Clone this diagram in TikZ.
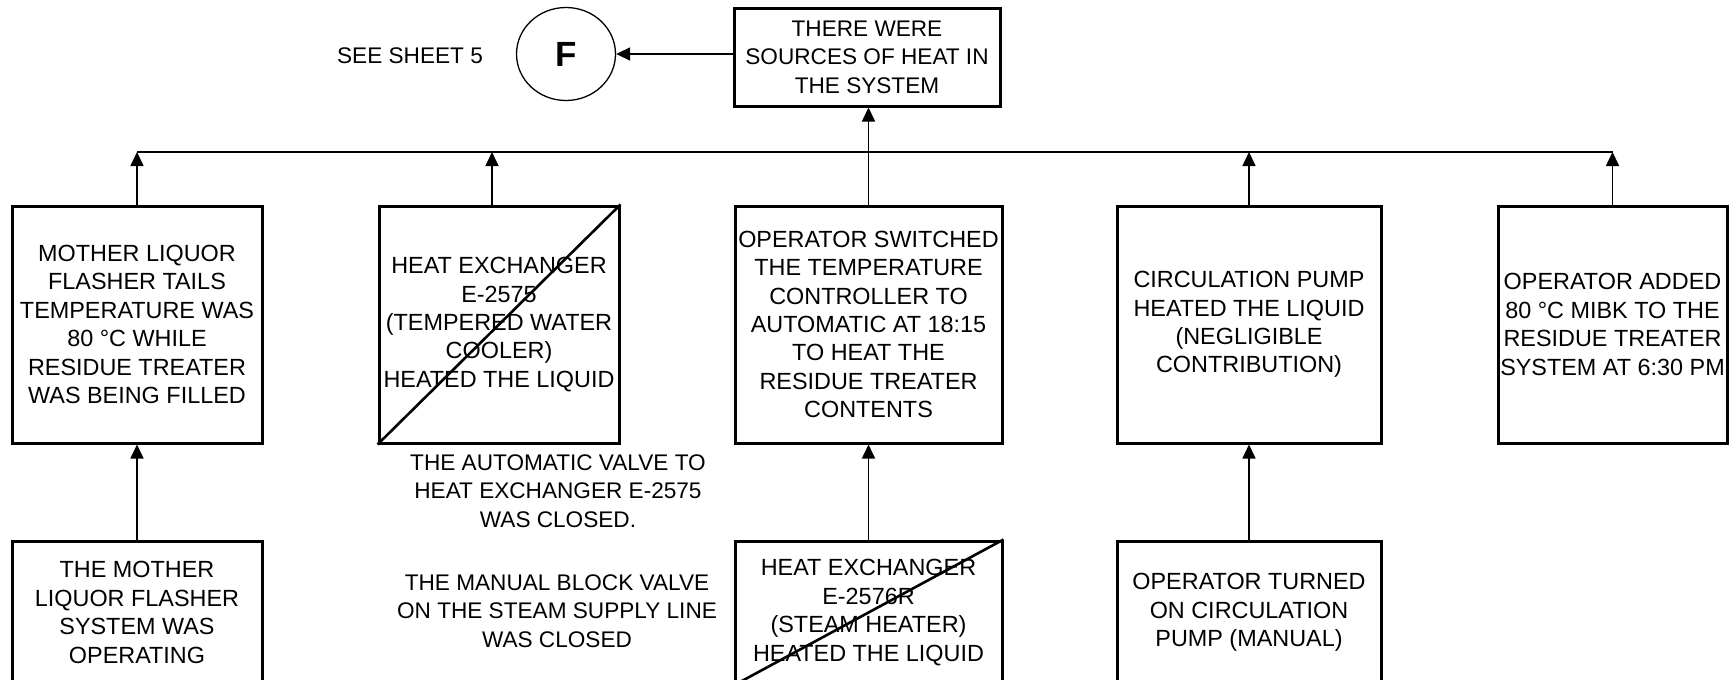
\documentclass[tikz,border=0pt]{standalone}
\usepackage{fontspec}
\setmainfont{Liberation Sans}
\usetikzlibrary{arrows.meta,shapes.geometric}

\begin{document}
\begin{tikzpicture}[x=0.5pt,y=-0.5pt,>={Triangle[length=7pt,width=6.5pt]},
  font=\fontsize{11.3}{14.2}\selectfont,
  box/.style={draw,line width=1.5pt,align=center,inner sep=1pt},
  rowone/.style={box,minimum height=118.5pt,font=\fontsize{11.7}{14.2}\selectfont},
  rowtwo/.style={box,minimum height=71.5pt,font=\fontsize{11.7}{14.2}\selectfont},
  note/.style={align=center,inner sep=0pt},
  link/.style={->,line width=0.8pt},
  cross/.style={line width=1.3pt}]
\useasboundingbox (0,0) rectangle (1730,680);
% top event and off-sheet connector
\node[box,minimum width=133pt,minimum height=49pt] (top) at (867,57) {THERE WERE\\SOURCES OF HEAT IN\\THE SYSTEM};
\node[draw,ellipse,line width=0.65pt,minimum width=49.5pt,minimum height=46.5pt,inner sep=0pt,font=\fontsize{17.5}{20}\selectfont\bfseries] (F) at (566,54) {F};
\node[note] (sheet) at (410,56) {SEE SHEET 5};
\draw[link] (F.east -| top.west) -- (F.east);
% causes
\node[rowone,minimum width=125pt] (A) at (137,324.5) {MOTHER LIQUOR\\FLASHER TAILS\\TEMPERATURE WAS\\80 °C WHILE\\RESIDUE TREATER\\WAS BEING FILLED};
\node[rowone,minimum width=120pt] (B) at (499,324.5) {HEAT EXCHANGER\\E-2575\\(TEMPERED WATER\\COOLER)\\HEATED THE LIQUID};
\node[rowone,minimum width=133.5pt] (C) at (868.5,324.5) {OPERATOR SWITCHED\\THE TEMPERATURE\\CONTROLLER TO\\AUTOMATIC AT 18:15\\TO HEAT THE\\RESIDUE TREATER\\CONTENTS};
\node[rowone,minimum width=132pt] (D) at (1249,324.5) {CIRCULATION PUMP\\HEATED THE LIQUID\\(NEGLIGIBLE\\CONTRIBUTION)};
\node[rowone,minimum width=114.5pt] (E) at (1612.5,324.5) {OPERATOR ADDED\\80 °C MIBK TO THE\\RESIDUE TREATER\\SYSTEM AT 6:30 PM};
\draw[cross] (B.south west) -- (B.north east);
% bus to the top event
\coordinate (bus) at (0,152);
\draw[line width=0.8pt] (A.north |- bus) -- (E.north |- bus);
\foreach \n in {A,D,E}{\draw[link] (\n.north) -- (\n.north |- bus);}
\draw[link] ([xshift=-3.5pt]B.north) -- ([xshift=-3.5pt]B.north |- bus);
\draw[link] (C.north) -- (C.north |- top.south);
% second level
\node[rowtwo,minimum width=125pt] (A2) at (137,612.5) {THE MOTHER\\LIQUOR FLASHER\\SYSTEM WAS\\OPERATING};
\node[rowtwo,minimum width=133.5pt] (C2) at (868.5,612.5) {HEAT EXCHANGER\\E-2576R\\(STEAM HEATER)\\HEATED THE LIQUID};
\node[rowtwo,minimum width=132pt] (D2) at (1249,612.5) {OPERATOR TURNED\\ON CIRCULATION\\PUMP (MANUAL)};
\draw[cross] (C2.south west) -- (C2.north east);
\foreach \n in {A,C,D}{\draw[link] (\n2.north) -- (\n.south);}
\node[note] (valve1) at (558,491) {THE AUTOMATIC VALVE TO\\HEAT EXCHANGER E-2575\\WAS CLOSED.};
\node[note] (valve2) at (557,611) {THE MANUAL BLOCK VALVE\\ON THE STEAM SUPPLY LINE\\WAS CLOSED};
\end{tikzpicture}
\end{document}
